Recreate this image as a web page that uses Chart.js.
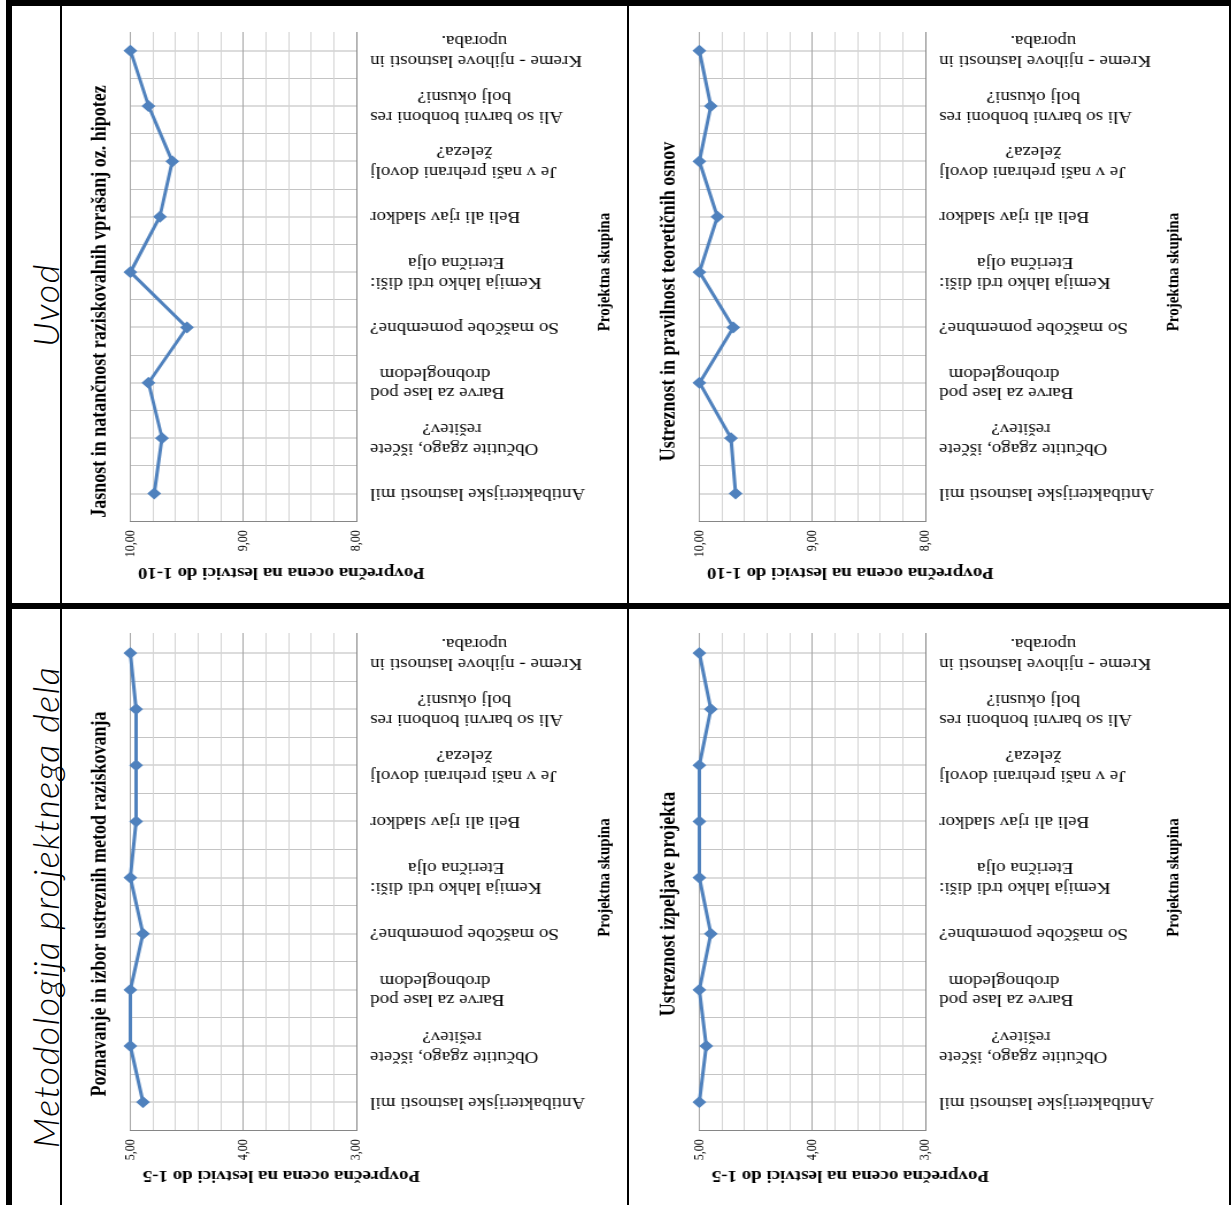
<!DOCTYPE html>
<html>
<head>
<meta charset="utf-8">
<script src="https://cdn.jsdelivr.net/npm/chart.js@4.4.1/dist/chart.umd.min.js"></script>
<style>
html, body { margin: 0; padding: 0; background: #fff; }
body { width: 1231px; height: 1205px; position: relative; overflow: hidden; }
.bar { position: absolute; background: #000; }
.rowhead { position: absolute; left: 21px; width: 48px; display: flex; align-items: center; justify-content: center; }
.rowhead span { display: block; transform: rotate(-90deg); white-space: nowrap; font-family: Lato, "Open Sans", sans-serif; font-style: italic; font-weight: 300; font-size: 36px; letter-spacing: 1.5px; color: #000; }
.clip { position: absolute; overflow: hidden; }
.rot { position: absolute; left: 0; transform-origin: 0 0; }
</style>
</head>
<body>
<div class="bar" style="left:6px;top:0;width:1225px;height:6px"></div>
<div class="bar" style="left:6px;top:0;width:6px;height:1205px"></div>
<div class="bar" style="left:1229px;top:0;width:2px;height:1205px"></div>
<div class="bar" style="left:60px;top:0;width:2px;height:1205px"></div>
<div class="bar" style="left:627px;top:0;width:2px;height:1205px"></div>
<div class="bar" style="left:6px;top:603px;width:1225px;height:6px"></div>

<div class="rowhead" style="top:6px;height:597px"><span>Uvod</span></div>
<div class="rowhead" style="top:609px;height:596px"><span>Metodologija projektnega dela</span></div>

<div id="slot1"></div>
<div id="slot2"></div>
<div id="slot3"></div>
<div id="slot4"></div>

<script>
// categories go from the bottom of each panel to the top
const categories = [
  ['Antibakterijske lastnosti mil'],
  ['Občutite zgago, iščete', 'rešitev?'],
  ['Barve za lase pod', 'drobnogledom'],
  ['So maščobe pomembne?'],
  ['Kemija lahko trdi diši:', 'Eterična olja'],
  ['Beli ali rjav sladkor'],
  ['Je v naši prehrani dovolj', 'železa?'],
  ['Ali so barvni bonboni res', 'bolj okusni?'],
  ['Kreme - njihove lastnosti in', 'uporaba.']
];

const jasnostValues   = [9.79, 9.72, 9.84, 9.50, 10.00, 9.74, 9.63, 9.84, 10.00];
const teorijaValues   = [9.68, 9.72, 10.00, 9.70, 10.00, 9.84, 10.00, 9.90, 10.00];
const metodeValues    = [4.89, 5.00, 5.00, 4.89, 5.00, 4.95, 4.95, 4.95, 5.00];
const izpeljavaValues = [5.00, 4.94, 5.00, 4.90, 5.00, 5.00, 5.00, 4.90, 5.00];

const range10 = [8, 10];
const range5 = [3, 5];
const valueStep = 0.2;

const titles = [
  'Jasnost in natančnost raziskovalnih vprašanj oz. hipotez',
  'Ustreznost in pravilnost teoretičnih osnov',
  'Poznavanje in izbor ustreznih metod raziskovanja',
  'Ustreznost izpeljave projekta'
];
const xAxisTitle = 'Projektna skupina';
const yTitle10 = 'Povprečna ocena na lestvici do 1-10';
const yTitle5 = 'Povprečna ocena na lestvici do 1-5';

const lineBlue = '#4F81BD';
const serif = '"Liberation Serif", "Times New Roman", serif';
const labelSize = 16.5;
const yTitleSize = 16.5;
Chart.defaults.font.family = serif;
Chart.defaults.color = '#000';

// the charts are drawn upright and then turned a quarter turn to the left
const stretch = 1.15;
const chartH = 478;

function placeChart(slotId, left, top, width, clipTop) {
  const slot = document.getElementById(slotId);
  slot.className = 'clip';
  slot.style.left = left + 'px';
  slot.style.top = clipTop + 'px';
  slot.style.width = Math.ceil(chartH * stretch) + 'px';
  slot.style.height = (top + width - clipTop) + 'px';
  const rot = document.createElement('div');
  rot.className = 'rot';
  rot.style.top = (top - clipTop) + 'px';
  rot.style.width = width + 'px';
  rot.style.height = chartH + 'px';
  rot.style.transform = 'scale(' + stretch + ',1) translate(0,' + width + 'px) rotate(-90deg)';
  const canvas = document.createElement('canvas');
  rot.appendChild(canvas);
  slot.appendChild(rot);
  return canvas;
}

const measure = document.createElement('canvas').getContext('2d');
function centerLines(lines) {
  measure.font = labelSize + 'px ' + serif;
  const widths = lines.map(l => measure.measureText(l).width);
  const maxW = Math.max(...widths);
  const sp = measure.measureText('\u00a0').width;
  return lines.map((l, i) => l + '\u00a0'.repeat(Math.round((maxW - widths[i]) / 2 / sp)));
}

// the value-axis title sits a little toward the low end of the axis
function shiftTitle(text, shift) {
  measure.font = 'bold ' + yTitleSize + 'px ' + serif;
  const sp = measure.measureText('\u00a0').width;
  return text + '\u00a0'.repeat(Math.round(2 * shift / sp));
}

function isWhole(v) {
  return Math.abs(v - Math.round(v)) < 1e-6;
}

// two-line category labels sit centred on their tick, like the one-line ones
const centerLabelBlocks = {
  id: 'centerLabelBlocks',
  beforeDraw(chart) {
    const items = chart.scales.x.getLabelItems();
    items.forEach(item => {
      if (Array.isArray(item.label) && item.label.length > 1 && !item.shifted) {
        item.options.translation[0] -= (item.label.length - 1) * labelSize * 1.2 / 2;
        item.shifted = true;
      }
    });
  }
};

function buildChart(canvas, titleText, values, range, yTitleText) {
  return new Chart(canvas, {
    type: 'line',
    data: {
      labels: categories,
      datasets: [{
        data: values,
        borderColor: lineBlue,
        backgroundColor: lineBlue,
        borderWidth: 3,
        pointStyle: 'rectRot',
        pointRadius: 6,
        pointHoverRadius: 6,
        pointBorderWidth: 0,
        tension: 0,
        clip: false
      }]
    },
    options: {
      responsive: true,
      maintainAspectRatio: false,
      animation: false,
      events: [],
      layout: { padding: { left: 4, right: 0, top: 0, bottom: 0 } },
      plugins: {
        legend: { display: false },
        tooltip: { enabled: false },
        title: {
          display: true,
          text: titleText,
          color: '#000',
          font: { size: 18, weight: 'bold' },
          padding: { top: 16, bottom: 15 }
        }
      },
      scales: {
        x: {
          type: 'category',
          offset: true,
          afterFit: scale => { scale.paddingLeft = 0; scale.paddingRight = 0; },
          grid: { offset: false, color: '#DCDCDC', lineWidth: 2, drawTicks: false },
          border: { color: '#868686' },
          ticks: {
            autoSkip: false,
            minRotation: 90,
            maxRotation: 90,
            padding: 12,
            color: '#000',
            font: { size: labelSize },
            callback: function (value) {
              return centerLines(this.getLabelForValue(value));
            }
          },
          title: {
            display: true,
            text: xAxisTitle,
            color: '#000',
            font: { size: 15, weight: 'bold' },
            padding: { top: -4, bottom: 4 }
          }
        },
        x2: {
          type: 'category',
          position: 'bottom',
          offset: true,
          afterFit: scale => { scale.paddingLeft = 0; scale.paddingRight = 0; },
          grid: { offset: true, color: '#C4C4C4', drawTicks: false },
          border: { display: false },
          ticks: { display: false }
        },
        y: {
          min: range[0],
          max: range[1],
          grid: {
            drawTicks: false,
            color: ctx => (ctx.tick && isWhole(ctx.tick.value)) ? '#A6A6A6' : '#D4D4D4'
          },
          border: { color: '#868686' },
          ticks: {
            stepSize: valueStep,
            autoSkip: false,
            padding: 9,
            color: '#000',
            font: { size: 12 },
            callback: v => isWhole(v) ? v.toFixed(2).replace('.', ',') : ''
          },
          title: {
            display: true,
            text: shiftTitle(yTitleText, 33),
            color: '#000',
            font: { size: yTitleSize, weight: 'bold' },
            padding: { top: 4, bottom: -4 }
          }
        }
      }
    },
    plugins: [centerLabelBlocks]
  });
}

buildChart(placeChart('slot1', 70, 17, 573, 32), titles[0], jasnostValues, range10, yTitle10);
buildChart(placeChart('slot2', 639, 17, 573, 32), titles[1], teorijaValues, range10, yTitle10);
buildChart(placeChart('slot3', 70, 619, 574, 633), titles[2], metodeValues, range5, yTitle5);
buildChart(placeChart('slot4', 639, 619, 574, 633), titles[3], izpeljavaValues, range5, yTitle5);
</script>
</body>
</html>
